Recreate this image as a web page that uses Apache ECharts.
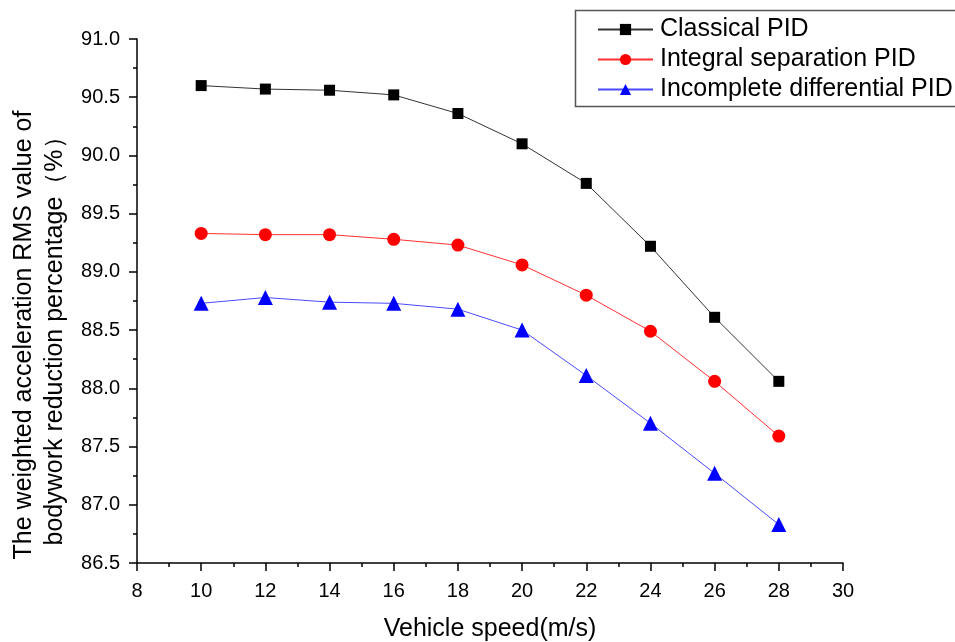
<!DOCTYPE html>
<html>
<head>
<meta charset="utf-8">
<script src="https://cdn.jsdelivr.net/npm/echarts@6/dist/echarts.min.js"></script>
<style>
  html, body { margin: 0; padding: 0; background: #fff; }
  #chart { width: 955px; height: 642px; }
</style>
</head>
<body>
<div id="chart"></div>
<script>
// Vehicle speed (m/s)
const speeds = [10, 12, 14, 16, 18, 20, 22, 24, 26, 28];
// RMS reduction percentage (%) for each controller
const classicalPID = [90.60, 90.57, 90.56, 90.52, 90.36, 90.10, 89.76, 89.22, 88.61, 88.06];
const integralSeparationPID = [89.33, 89.32, 89.32, 89.28, 89.23, 89.06, 88.80, 88.49, 88.06, 87.59];
const incompleteDifferentialPID = [88.73, 88.78, 88.74, 88.73, 88.68, 88.50, 88.11, 87.70, 87.27, 86.83];
const seriesNames = ['Classical PID', 'Integral separation PID', 'Incomplete differential PID'];

const font = 'Arial, "Liberation Sans", sans-serif';
const pairs = arr => speeds.map((s, i) => [s, arr[i]]);

const axisCommon = {
  axisLine: { show: true, lineStyle: { color: '#000', width: 1.5 } },
  axisTick: { show: true, inside: false, length: 8, lineStyle: { color: '#000', width: 1.5 } },
  minorTick: { show: true, splitNumber: 2, length: 4, lineStyle: { color: '#000', width: 1.5 } },
  splitLine: { show: false },
  axisLabel: { color: '#000', fontSize: 20, fontFamily: font },
  nameTextStyle: { color: '#000', fontSize: 25, fontFamily: font }
};

const chart = echarts.init(document.getElementById('chart'));
chart.setOption({
  backgroundColor: '#fff',
  animation: false,
  grid: { left: 137, right: 112, top: 39, bottom: 79, containLabel: false, outerBoundsMode: 'none' },
  // legend frame: open on the right, where it runs off the canvas
  graphic: [{
    type: 'polyline',
    shape: { points: [[980, 10.5], [575.5, 10.5], [575.5, 106.5], [980, 106.5]] },
    style: { fill: null, stroke: '#555', lineWidth: 1.5 },
    z: 0
  }],
  legend: {
    orient: 'vertical',
    left: 575,
    top: 10,
    padding: [7, 10, 4, 22],
    itemGap: 5,
    itemWidth: 55,
    itemHeight: 14,
    borderWidth: 0,
    textStyle: { color: '#000', fontSize: 25, lineHeight: 25, fontFamily: font, padding: [0, 0, 0, 2] },
    data: seriesNames
  },
  xAxis: Object.assign({}, axisCommon, {
    type: 'value',
    min: 8, max: 30, interval: 2,
    name: 'Vehicle speed(m/s)',
    nameLocation: 'middle',
    nameGap: 54,
    axisLabel: Object.assign({}, axisCommon.axisLabel, { margin: 18 })
  }),
  yAxis: Object.assign({}, axisCommon, {
    type: 'value',
    min: 86.5, max: 91.0, interval: 0.5,
    name: 'The weighted acceleration RMS value of\nbodywork reduction percentage（%）',
    nameLocation: 'middle',
    nameRotate: 90,
    nameGap: 66,
    nameTextStyle: Object.assign({}, axisCommon.nameTextStyle, { lineHeight: 31, padding: [0, 68, 0, 0] }),
    axisLabel: Object.assign({}, axisCommon.axisLabel, {
      margin: 17,
      formatter: v => v.toFixed(1)
    })
  }),
  series: [
    {
      name: seriesNames[0], type: 'line', data: pairs(classicalPID),
      symbol: 'rect', symbolSize: 11,
      lineStyle: { color: '#333', width: 1 },
      itemStyle: { color: '#000' }
    },
    {
      name: seriesNames[1], type: 'line', data: pairs(integralSeparationPID),
      symbol: 'circle', symbolSize: 13,
      lineStyle: { color: '#ff3030', width: 1 },
      itemStyle: { color: '#ff0000' }
    },
    {
      name: seriesNames[2], type: 'line', data: pairs(incompleteDifferentialPID),
      symbol: 'triangle', symbolSize: 15,
      lineStyle: { color: '#4a4aff', width: 1 },
      itemStyle: { color: '#0000ff' }
    }
  ]
});
</script>
</body>
</html>
